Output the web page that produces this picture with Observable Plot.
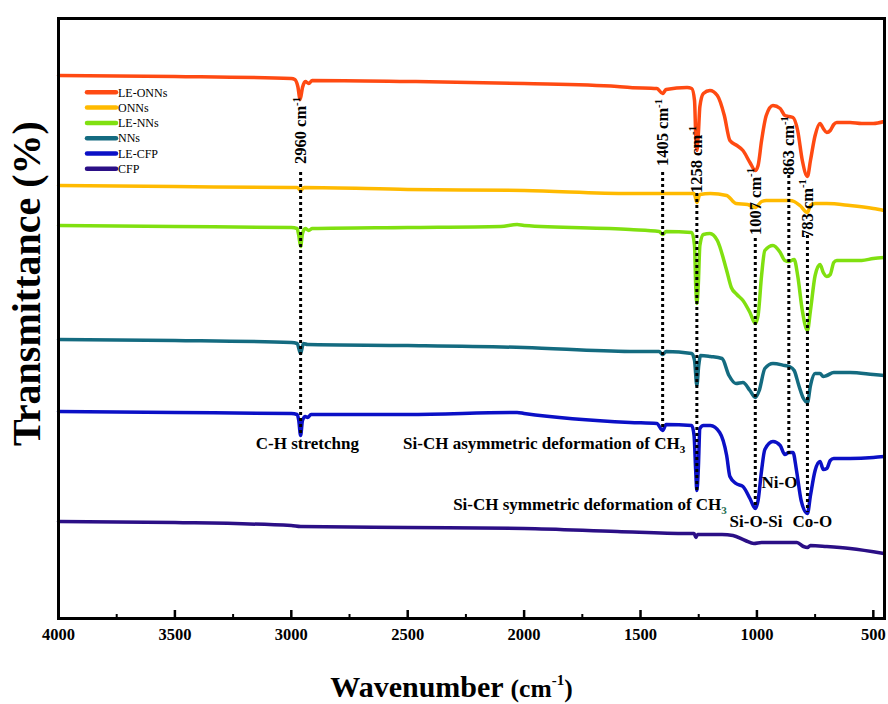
<!DOCTYPE html>
<html><head><meta charset="utf-8">
<script src="https://cdn.jsdelivr.net/npm/d3@7"></script>
<script src="https://cdn.jsdelivr.net/npm/@observablehq/plot@0.6"></script>
<style>body{margin:0;background:#fff}#chart svg{display:block}</style>
</head><body><div id="chart"></div>
<script>
const seriesNames = ["LE-ONNs","ONNs","LE-NNs","NNs","LE-CFP","CFP"];
const seriesColors = ["#ff4a12","#ffba00","#80e010","#146b80","#0b10c6","#2b0f86"];

// [wavenumber (cm-1), transmittance (a.u., offset)]
const leOnns = [[4000,543],[3500,542],[3000,540],[2985,539],[2972,532],[2962,519],[2952,531],[2940,537],[2925,535],[2910,538],[2500,537],[2000,535],[1600,532],[1545,531],[1430,530],[1405,525],[1390,529],[1300,531],[1280,530],[1268,518],[1263,485],[1258,468],[1252,483],[1245,512],[1230,525],[1202,528],[1170,523],[1140,503],[1116,478],[1086,473],[1060,468],[1030,456],[1007,448],[995,453],[980,478],[960,503],[931,513],[900,510],[880,503],[863,502],[845,501],[825,488],[805,458],[783,442],[770,458],[750,483],[729,495],[715,490],[700,486],[685,488],[670,494],[657,496],[600,496],[550,495],[500,495],[454,497]];
const onns = [[4000,433],[3500,432],[3000,431],[2975,431],[2960,428],[2945,431],[2500,429],[2000,428],[1545,425],[1270,425],[1258,416],[1245,424],[1200,425],[1130,423],[1090,415],[1040,414],[1007,411],[980,417],[960,418],[860,418],[840,417],[815,413],[783,406],[770,413],[750,415],[700,415],[600,413],[500,410],[454,408]];
const leNns = [[4000,393],[3500,392],[3000,391],[2975,390],[2968,383],[2960,372],[2952,385],[2940,390],[2925,388],[2910,390],[2500,391],[2100,392],[2030,394],[2000,393],[1545,389],[1420,387],[1405,384],[1390,387],[1280,386],[1268,373],[1263,333],[1258,315],[1252,333],[1245,373],[1230,384],[1202,385],[1170,378],[1130,348],[1110,331],[1086,324],[1060,318],[1030,306],[1007,295],[995,303],[980,343],[966,368],[931,373],[900,366],[880,358],[863,357],[840,359],[825,343],[805,308],[783,288],[770,308],[750,343],[729,354],[715,346],[700,342],[685,344],[670,356],[657,358],[600,358],[550,358],[500,360],[454,361]];
const nns = [[4000,279],[3500,278],[3000,276],[2975,275],[2960,265],[2948,275],[2930,274],[2500,273],[2000,271],[1545,267],[1420,267],[1405,264],[1390,267],[1280,265],[1268,258],[1258,233],[1250,253],[1242,263],[1200,262],[1150,260],[1120,243],[1090,235],[1060,236],[1030,228],[1007,221],[990,228],[966,250],[931,255],[880,253],[860,252],[840,248],[820,233],[800,220],[783,216],[770,233],[750,245],[729,245],[715,242],[700,243],[670,246],[600,246],[500,244],[454,243]];
const leCfp = [[4000,207],[3500,206],[3000,205],[2975,204],[2968,198],[2960,183],[2952,198],[2940,202],[2930,201],[2915,204],[2500,204],[2030,206],[2000,205],[1545,196],[1430,195],[1405,188],[1390,194],[1280,193],[1270,183],[1263,148],[1258,128],[1252,148],[1245,190],[1230,193],[1200,193],[1160,186],[1130,163],[1116,142],[1090,135],[1060,132],[1030,120],[1007,110],[995,118],[980,148],[966,169],[931,177],[900,173],[880,164],[863,166],[845,166],[830,148],[810,118],[783,105],[770,123],[750,148],[729,157],[715,149],[700,150],[685,158],[670,160],[600,160],[500,161],[454,162]];
const cfp = [[4000,97],[3500,96],[3000,93],[2960,92],[2500,91],[2000,90],[1600,87],[1300,85],[1270,85],[1262,81],[1255,84],[1150,84],[1103,83],[1050,78],[1013,75],[980,76],[900,76],[828,76],[800,72],[783,71],[770,73],[700,72],[600,70],[454,65]];
const seriesData = [leOnns, onns, leNns, nns, leCfp, cfp];

const peakWn = [2960, 1405, 1258, 1007, 863, 783];
const peakLabels = ["2960 cm^{-1}", "1405 cm^{-1}", "1258 cm^{-1}", "1007 cm^{-1}", "863 cm^{-1}", "783 cm^{-1}"];
const peakLabelT = [488, 486, 459, 417, 473, 410];
const peakLineTop = [446, 446, 425, 380, 443, 383];
const peakLineBottom = [183, 188, 128, 110, 163, 106];

const noteText = ["C-H stretchng", "Si-CH asymmetric deformation of CH_{3}", "Si-CH symmetric deformation of CH_{3|#1f6e52}", "Ni-O", "Si-O-Si", "Co-O"];
const noteWn = [2931, 1914, 1717, 903, 1004, 762];
const noteT = [175, 175, 114, 136, 97, 97];

const xTicks = [4000, 3500, 3000, 2500, 2000, 1500, 1000, 500];
const xMinorTicks = [3750, 3250, 2750, 2250, 1750, 1250, 750];
const xTitle = "Wavenumber ~85{(cm}^50{-1}~85{)}";
const yTitle = "Transmittance (%)";

const rows = seriesNames.flatMap((name, i) => seriesData[i].map(([wn, t]) => ({series: name, wn, t})));
const peaks = peakWn.map((wn, i) => ({wn, label: peakLabels[i], t: peakLabelT[i], top: peakLineTop[i], bottom: peakLineBottom[i]}));
const notes = noteText.map((text, i) => ({text, wn: noteWn[i], t: noteT[i]}));

function legendMark(index, scales, values, dimensions) {
  const g = d3.create("svg:g").attr("aria-label", "legend");
  seriesNames.forEach((name, i) => {
    const y = dimensions.marginTop + 74.3 + i * 15.3;
    const x0 = dimensions.marginLeft + 29;
    g.append("line").attr("x1", x0).attr("x2", x0 + 29).attr("y1", y).attr("y2", y)
      .attr("stroke", scales.color(name)).attr("stroke-width", 4.5).attr("stroke-linecap", "round");
    g.append("text").attr("x", x0 + 31).attr("y", y).attr("dy", "0.35em")
      .attr("text-anchor", "start").attr("font-size", 12).attr("fill", "#000").text(name);
  });
  return g.node();
}

const chart = Plot.plot({
  width: 888, height: 704,
  marginLeft: 58, marginRight: 4, marginTop: 18, marginBottom: 86,
  style: {fontFamily: "'Liberation Serif','Times New Roman',serif", background: "#fff", color: "#000"},
  x: {domain: [4000, 452], axis: null},
  y: {domain: [0, 600], axis: null},
  color: {domain: seriesNames, range: seriesColors},
  marks: [
    Plot.line(rows, {x: "wn", y: "t", z: "series", stroke: "series", strokeWidth: 3.5, curve: "monotone-x"}),
    Plot.ruleX(peaks, {x: "wn", y1: "top", y2: "bottom", stroke: "#000", strokeWidth: 3, strokeDasharray: "3,3"}),
    Plot.text(peaks, {x: "wn", y: "t", text: "label", rotate: -90, fontSize: 16.5, fontWeight: "bold", fill: "#000"}),
    Plot.text(notes, {x: "wn", y: "t", text: "text", fontSize: 17, fontWeight: "bold", fill: "#000"}),
    Plot.ruleX(xTicks, {x: d => d, insetTop: 592, stroke: "#000", strokeWidth: 2.5}),
    Plot.ruleX(xMinorTicks, {x: d => d, insetTop: 596, stroke: "#000", strokeWidth: 2}),
    Plot.text(xTicks, {x: d => d, text: d => String(d), frameAnchor: "bottom", dy: 10, lineAnchor: "top", textAnchor: "middle", fontSize: 16.5, fontWeight: "bold", fill: "#000", ariaLabel: "x-ticklabels"}),
    Plot.frame({stroke: "#000", strokeWidth: 3}),
    Plot.text([xTitle], {frameAnchor: "bottom", dx: -20, dy: 78, textAnchor: "middle", fontSize: 30, fontWeight: "bold", fill: "#000", ariaLabel: "x-title"}),
    Plot.text([yTitle], {frameAnchor: "left", dx: -31, dy: -35, rotate: -90, textAnchor: "middle", fontSize: 40, fontWeight: "bold", fill: "#000", ariaLabel: "y-title"}),
    legendMark
  ]
});
document.getElementById("chart").appendChild(chart);

function richify(svg) {
  svg.querySelectorAll("text").forEach(el => {
    const s = el.textContent;
    if (!/[\^_~]\d*\{/.test(s)) return;
    const base = parseFloat(getComputedStyle(el).fontSize);
    el.textContent = "";
    let cur = 0;
    const re = /([\^_~])(\d*)\{([^}]*)\}|([^\^_~]+)/g;
    let m;
    while ((m = re.exec(s))) {
      const ts = document.createElementNS("http://www.w3.org/2000/svg", "tspan");
      let size = base, shift = 0, txt, color = null;
      if (m[4] !== undefined) txt = m[4];
      else {
        const kind = m[1];
        const pct = m[2] ? +m[2] / 100 : (kind === "~" ? 0.72 : 0.65);
        size = base * pct;
        shift = kind === "^" ? -0.38 * base : kind === "_" ? 0.22 * base : 0;
        [txt, color] = m[3].split("|");
      }
      ts.setAttribute("font-size", size);
      if (shift !== cur) ts.setAttribute("dy", shift - cur);
      cur = shift;
      if (color) ts.setAttribute("fill", color);
      ts.textContent = txt;
      el.appendChild(ts);
    }
  });
}
function stretch(selector, k) {
  chart.querySelectorAll(selector).forEach(t => {
    t.setAttribute("transform", (t.getAttribute("transform") || "") + ` scale(1,${k})`);
  });
}
richify(chart);
stretch('g[aria-label="x-ticklabels"] text', 1.35);
stretch('g[aria-label="x-title"] text', 1.3);
</script>
</body></html>
